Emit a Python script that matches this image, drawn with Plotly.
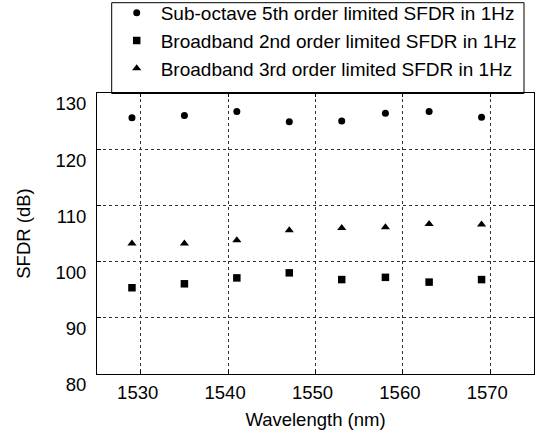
import plotly.graph_objects as go

# Measured SFDR (1 Hz bandwidth) versus optical wavelength
wavelength_nm = [1529, 1535, 1541, 1547, 1553, 1558, 1563, 1569]
sfdr_sub_octave_5th = [125.6, 126.0, 126.7, 124.9, 125.0, 126.4, 126.7, 125.7]
sfdr_broadband_2nd = [95.35, 96.05, 97.1, 98.0, 96.8, 97.2, 96.35, 96.8]
sfdr_broadband_3rd = [103.2, 103.2, 103.8, 105.6, 106.0, 106.1, 106.7, 106.6]

series_names = [
    "Sub-octave 5th order limited SFDR in 1Hz",
    "Broadband 2nd order limited SFDR in 1Hz",
    "Broadband 3rd order limited SFDR in 1Hz",
]

x_ticks = [1530, 1540, 1550, 1560, 1570]
y_ticks = [80, 90, 100, 110, 120, 130]

FONT = "Liberation Sans, Arial, sans-serif"
FS = 18.5

W, H = 537, 435
ML, MR, MT, MB = 97, 3, 93, 61
PW, PH = W - ML - MR, H - MT - MB


def px_to_paper_x(px):
    return (px - ML) / PW


def px_to_paper_y(py):
    return 1 - (py - MT) / PH


fig = go.Figure()
styles = [("circle", 7), ("square", 7.5), ("triangle-up", 8)]
for i, (vals, name, (sym, size)) in enumerate(
    zip([sfdr_sub_octave_5th, sfdr_broadband_2nd, sfdr_broadband_3rd], series_names, styles)
):
    fig.add_trace(go.Scatter(
        x=wavelength_nm, y=vals, mode="markers", name=name,
        legendgroup=f"g{i}",
        marker=dict(symbol=sym, size=size, color="black", line=dict(width=0)),
    ))

axis_common = dict(
    showline=True, linecolor="black", linewidth=1, mirror="ticks",
    ticks="inside", ticklen=4, tickcolor="black",
    showgrid=True, gridcolor="#333333", gridwidth=1, griddash="dot",
    zeroline=False,
    tickfont=dict(family=FONT, size=FS, color="black"),
)

fig.update_xaxes(
    range=[1525, 1575], tickvals=x_ticks,
    title=dict(text="Wavelength (nm)", font=dict(family=FONT, size=FS, color="black"), standoff=10),
    ticklabelstandoff=2, ticklabelshift=-3,
    **axis_common,
)
fig.update_yaxes(
    range=[80, 130], tickvals=y_ticks,
    title=dict(text="SFDR (dB)", font=dict(family=FONT, size=FS, color="black"), standoff=19),
    ticklabelstandoff=6, ticklabelshift=11,
    **axis_common,
)

# Legend frame drawn as a shape so the entries can sit freely inside it
fig.add_shape(
    type="rect", xref="paper", yref="paper", layer="above",
    x0=px_to_paper_x(111.7), x1=px_to_paper_x(524),
    y0=px_to_paper_y(93.5), y1=px_to_paper_y(2.7),
    line=dict(color="black", width=1), fillcolor="rgba(0,0,0,0)",
)

fig.update_layout(
    width=W, height=H,
    margin=dict(l=ML, r=MR, t=MT, b=MB, autoexpand=False),
    paper_bgcolor="white", plot_bgcolor="white",
    font=dict(family=FONT, size=FS, color="black"),
    showlegend=True,
    legend=dict(
        x=px_to_paper_x(112.7), xanchor="left",
        y=px_to_paper_y(-6), yanchor="top",
        bgcolor="rgba(0,0,0,0)", borderwidth=0,
        font=dict(family=FONT, size=19, color="black"),
        tracegroupgap=0, itemwidth=38,
    ),
)

fig.write_html("out.html")
